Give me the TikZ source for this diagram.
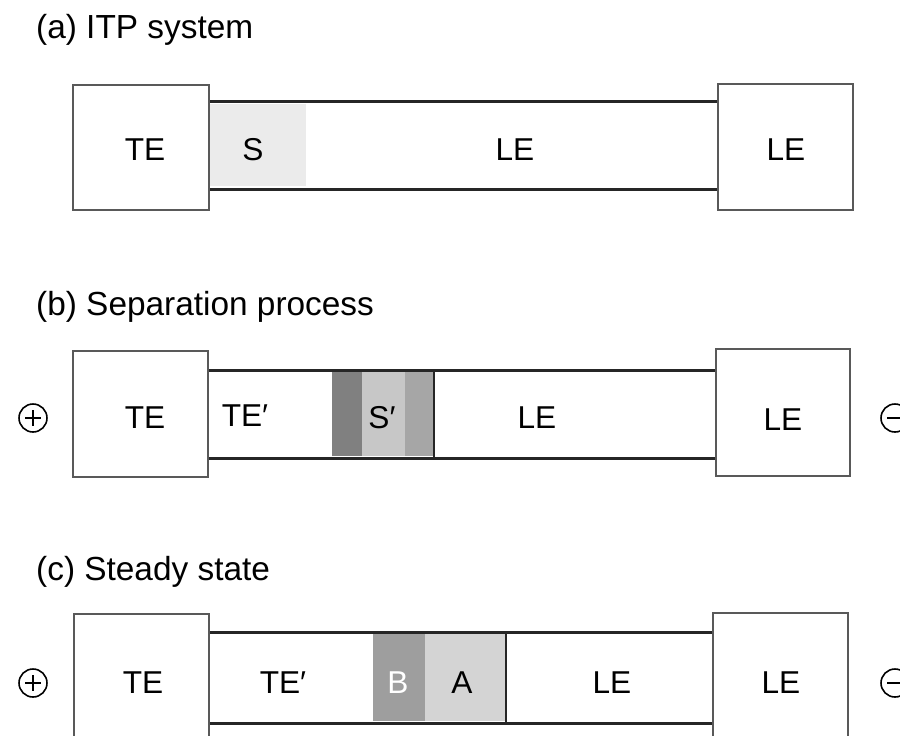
\documentclass[tikz,border=0pt]{standalone}
\usepackage{fontspec}
\setmainfont{Liberation Sans}
\begin{document}
\begin{tikzpicture}[x=0.02cm,y=-0.02cm,
    box/.style={draw=black!65,line width=1.1pt,fill=white},
    tube/.style={line width=1.7pt,draw=black!85},
    lbl/.style={font=\fontsize{18}{20}\selectfont},
    ttl/.style={font=\fontsize{19}{22}\selectfont,anchor=west}]
  \useasboundingbox (0,0) rectangle (900,735);
  \clip (0,0) rectangle (900,735);

  % (a)
  \node[ttl] (ta) at (30,30) {(a) ITP system};
  \fill[black!8] (209,104) rectangle (306,186);
  \draw[tube] (209,101) -- (718,101);
  \draw[tube] (209,189) -- (718,189);
  \draw[box] (73,85) rectangle (209,210);
  \draw[box] (718,84) rectangle (853,210);
  \node[lbl] (ate) at (145,150) {TE};
  \node[lbl] (as) at (253,150) {S};
  \node[lbl] (ale) at (515,150) {LE};
  \node[lbl] (alebox) at (786,150) {LE};

  % (b)
  \node[ttl] (tb) at (30,307) {(b) Separation process};
  \fill[black!50] (332,372) rectangle (362,456);
  \fill[black!22] (362,372) rectangle (405,456);
  \fill[black!35] (405,372) rectangle (433,456);
  \draw[tube] (208,370) -- (716,370);
  \draw[tube] (208,458) -- (716,458);
  \draw[tube] (434,370) -- (434,458);
  \draw[box] (73,351) rectangle (208,477);
  \draw[box] (716,349) rectangle (850,476);
  \node[lbl] (bte) at (145,418) {TE};
  \node[lbl] (bte2) at (245,416) {TE′};
  \node[lbl] (bs) at (382,418) {S′};
  \node[lbl] (ble) at (537,418) {LE};
  \node[lbl] (blebox) at (783,420) {LE};

  % (c)
  \node[ttl] (tc) at (30,572) {(c) Steady state};
  \fill[black!38] (373,634) rectangle (425,721);
  \fill[black!17] (425,634) rectangle (505,721);
  \draw[tube] (209,632) -- (713,632);
  \draw[tube] (209,723) -- (713,723);
  \draw[tube] (506,632) -- (506,723);
  \draw[box] (74,614) rectangle (209,740);
  \draw[box] (713,613) rectangle (848,740);
  \node[lbl] (cte) at (143,683) {TE};
  \node[lbl] (cte2) at (283,683) {TE′};
  \node[lbl,white] (cb) at (398,683) {B};
  \node[lbl] (ca) at (462,683) {A};
  \node[lbl] (cle) at (612,683) {LE};
  \node[lbl] (clebox) at (781,683) {LE};

  % electrodes
  \foreach \y in {418,683} {
    \draw[line width=0.9pt] (33,\y) circle[radius=14];
    \draw[line width=0.9pt] (25,\y) -- (41,\y) (33,\y-8) -- (33,\y+8);
    \draw[line width=0.9pt] (895,\y) circle[radius=14];
    \draw[line width=0.9pt] (887,\y) -- (903,\y);
  }
\end{tikzpicture}
\end{document}
